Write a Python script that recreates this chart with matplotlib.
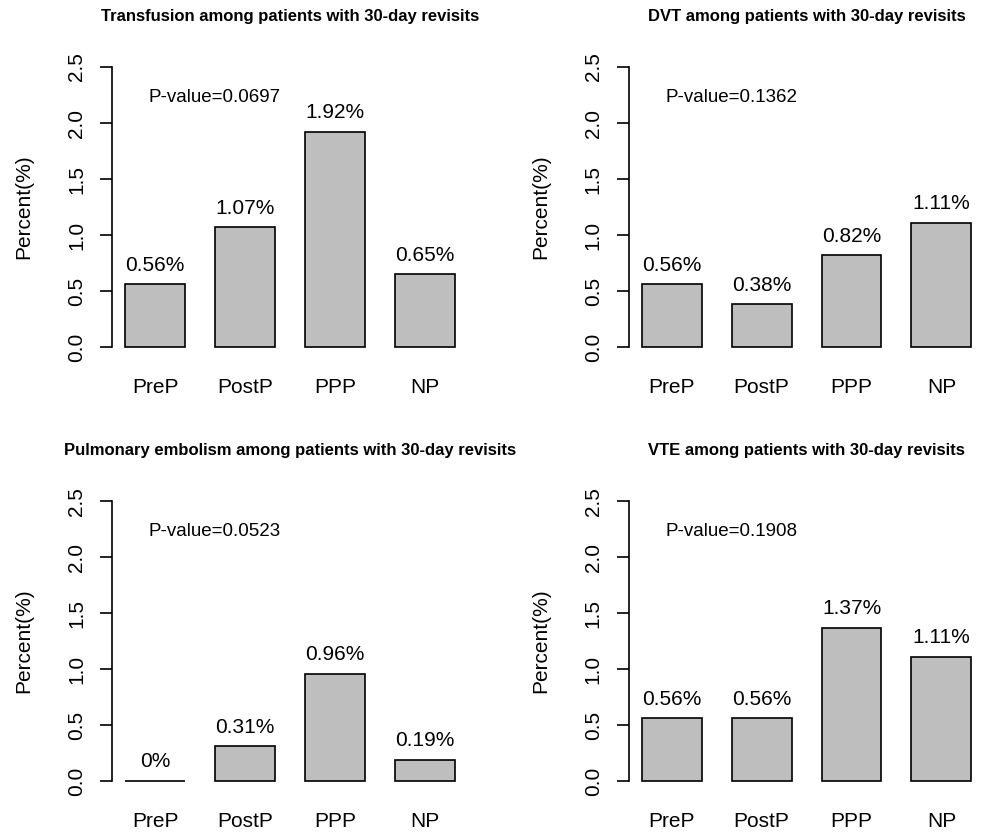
import numpy as np
import matplotlib
matplotlib.use("Agg")
import matplotlib.pyplot as plt

plt.rcParams['font.family'] = ['Liberation Sans', 'DejaVu Sans']

groups = ["PreP", "PostP", "PPP", "NP"]
titles = ["Transfusion among patients with 30-day revisits",
          "DVT among patients with 30-day revisits",
          "Pulmonary embolism among patients with 30-day revisits",
          "VTE among patients with 30-day revisits"]
transfusion = [0.56, 1.07, 1.92, 0.65]
dvt = [0.56, 0.38, 0.82, 1.11]
pe = [0, 0.31, 0.96, 0.19]
vte = [0.56, 0.56, 1.37, 1.11]
pvalues = ["0.0697", "0.1362", "0.0523", "0.1908"]
labels = [["0.56%", "1.07%", "1.92%", "0.65%"],
          ["0.56%", "0.38%", "0.82%", "1.11%"],
          ["0%", "0.31%", "0.96%", "0.19%"],
          ["0.56%", "0.56%", "1.37%", "1.11%"]]
series = [transfusion, dvt, pe, vte]

fig = plt.figure(figsize=(9.83, 8.32), dpi=100)
# axes boxes like R's par(mfrow=c(2,2)) layout
lefts = [0.1139, 0.6394, 0.1139, 0.6394]
bottoms = [0.5695, 0.5695, 0.0478, 0.0478]
w, h = 0.3622, 0.3634

x = np.arange(len(groups)) * 1.5 + 1.0   # barplot with space=0.5

for i in range(4):
    ax = fig.add_axes([lefts[i], bottoms[i], w, h])
    vals = series[i]
    ax.bar(x, vals, width=1.0, color="#bebebe", edgecolor="black", linewidth=1.2)
    for xi, v, lab in zip(x, vals, labels[i]):
        ax.text(xi, v + 0.17, lab, ha="center", va="center", fontsize=15)
    ax.text(2.0, 2.23, "P-value=" + pvalues[i], ha="center", va="center", fontsize=13.5)
    ax.set_xlim(0.28, 6.22)
    ax.set_ylim(-0.1, 2.6)
    ax.set_yticks(np.arange(0, 2.6, 0.5))
    ax.set_yticklabels(["%.1f" % t for t in np.arange(0, 2.6, 0.5)],
                       rotation=90, va="center", fontsize=15)
    ax.set_xticks(x)
    ax.set_xticklabels(groups, fontsize=15)
    ax.tick_params(axis="x", length=0, pad=14)
    ax.tick_params(axis="y", length=8.6, width=1.2, pad=10)
    for s in ["top", "right", "bottom"]:
        ax.spines[s].set_visible(False)
    ax.spines["left"].set_bounds(0, 2.5)
    ax.spines["left"].set_linewidth(1.2)
    ax.set_ylabel("Percent(%)", fontsize=15)
    ax.yaxis.set_label_coords(-0.22, 0.5)
    ax.set_title(titles[i], fontsize=12, fontweight="bold", pad=25)

fig.savefig("out.png", dpi=100)
